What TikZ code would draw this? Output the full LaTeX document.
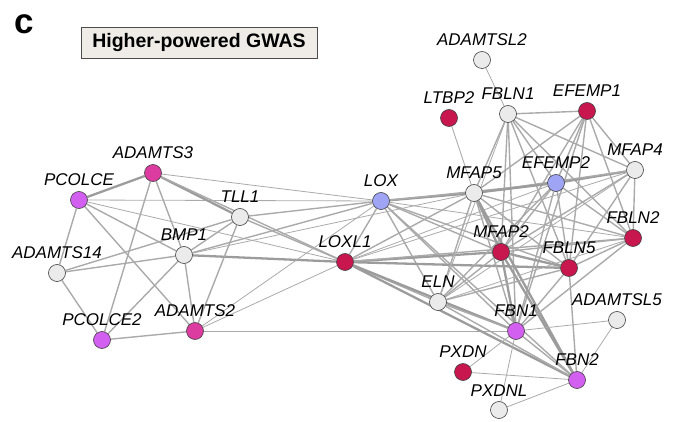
\documentclass[tikz,border=0pt]{standalone}
\usepackage{fontspec}
\setmainfont{Liberation Sans}
\usepackage{xcolor}
\definecolor{c8174f}{HTML}{C8174F}
\definecolor{dc3ca0}{HTML}{DC3CA0}
\definecolor{d35ff0}{HTML}{D35FF0}
\definecolor{a0a4f5}{HTML}{A0A4F5}
\definecolor{ebebeb}{HTML}{EBEBEB}
\definecolor{aaaaaa}{HTML}{AAAAAA}
\definecolor{efebe6}{HTML}{EFEBE6}
\usepackage{tikz}
\usetikzlibrary{backgrounds}

\tikzset{
    gene/.style={circle, draw=black!75, line width=0.6pt, minimum size=17pt, inner sep=0pt, fill=ebebeb},
    every label/.style={font=\fontsize{17}{17}\selectfont\itshape, inner sep=2pt},
    weak/.style={draw=aaaaaa, line width=0.8pt},
    link/.style={draw=aaaaaa, line width=1.4pt},
    strong/.style={draw=aaaaaa!92!black, line width=2.3pt},
}

\begin{document}
\begin{tikzpicture}[x=1pt, y=-1pt, label distance=3pt]
                        \useasboundingbox (0, 0) rectangle (686, 422);

                        \node (panel) at (24, 24) [font=\fontsize{35}{35}\selectfont\bfseries] {c};
                        \node (title) at (199, 42.5) [draw=black!70, fill=efebe6, minimum width=236, minimum height=31, inner sep=0pt, font=\fontsize{19.5}{20}\selectfont\bfseries] {Higher-powered GWAS};

                        % left cluster
                        \node (PCOLCE) at (79, 200) [gene, fill=d35ff0, label=above:PCOLCE] {};
                        \node (ADAMTS3) at (153, 173) [gene, fill=dc3ca0, label=above:ADAMTS3] {};
                        \node (TLL1) at (240, 217) [gene, label=above:TLL1] {};
                        \node (BMP1) at (184, 255) [gene, label=above:BMP1] {};
                        \node (ADAMTS14) at (57, 273) [gene, label=above:ADAMTS14] {};
                        \node (PCOLCE2) at (102, 340) [gene, fill=d35ff0, label=above:PCOLCE2] {};
                        \node (ADAMTS2) at (195, 331) [gene, fill=dc3ca0, label=above:ADAMTS2] {};

                        % middle
                        \node (LOX) at (381, 201) [gene, fill=a0a4f5, label=above:LOX] {};
                        \node (LOXL1) at (345, 262) [gene, fill=c8174f, label=above:LOXL1] {};
                        \node (ELN) at (438, 302) [gene, label=above:ELN] {};

                        % right cluster
                        \node (ADAMTSL2) at (482, 60) [gene, label=above:ADAMTSL2] {};
                        \node (LTBP2) at (449, 118) [gene, fill=c8174f, label=above:LTBP2] {};
                        \node (FBLN1) at (508, 114) [gene, label=above:FBLN1] {};
                        \node (EFEMP1) at (587, 111) [gene, fill=c8174f, label=above:EFEMP1] {};
                        \node (MFAP4) at (635, 170) [gene, label=above:MFAP4] {};
                        \node (EFEMP2) at (556, 183) [gene, fill=a0a4f5, label=above:EFEMP2] {};
                        \node (MFAP5) at (474, 193) [gene, label=above:MFAP5] {};
                        \node (FBLN2) at (633, 238) [gene, fill=c8174f, label=above:FBLN2] {};
                        \node (MFAP2) at (501, 252) [gene, fill=c8174f, label=above:MFAP2] {};
                        \node (FBLN5) at (569, 268) [gene, fill=c8174f, label=above:FBLN5] {};
                        \node (FBN1) at (516, 331) [gene, fill=d35ff0, label=above:FBN1] {};
                        \node (ADAMTSL5) at (617, 320) [gene, label=above:ADAMTSL5] {};
                        \node (PXDN) at (463, 372) [gene, fill=c8174f, label=above:PXDN] {};
                        \node (FBN2) at (577, 380) [gene, fill=d35ff0, label=above:FBN2] {};
                        \node (PXDNL) at (499, 410) [gene, label=above:PXDNL] {};

                        \begin{scope}[on background layer]
                        % left cluster
                        \draw[strong] (PCOLCE) -- (ADAMTS3);
                        \draw[link] (PCOLCE) -- (ADAMTS14);
                        \draw[link] (PCOLCE) -- (BMP1);
                        \draw[link] (PCOLCE) -- (ADAMTS2);
                        \draw[weak] (PCOLCE) -- (LOX);
                        \draw[weak] (PCOLCE) -- (LOXL1);
                        \draw[link] (ADAMTS3) -- (BMP1);
                        \draw[link] (ADAMTS3) -- (PCOLCE2);
                        \draw[strong] (ADAMTS3) -- (TLL1);
                        \draw[weak] (ADAMTS3) -- (LOX);
                        \draw[link] (ADAMTS3) -- (LOXL1);
                        \draw[link] (ADAMTS14) -- (BMP1);
                        \draw[link] (ADAMTS14) -- (TLL1);
                        \draw[link] (ADAMTS14) -- (PCOLCE2);
                        \draw[link] (BMP1) -- (TLL1);
                        \draw[link] (BMP1) -- (LOX);
                        \draw[strong] (BMP1) -- (LOXL1);
                        \draw[weak] (BMP1) -- (MFAP5);
                        \draw[link] (BMP1) -- (ADAMTS2);
                        \draw[link] (BMP1) -- (PCOLCE2);
                        \draw[link] (TLL1) -- (LOX);
                        \draw[link] (TLL1) -- (LOXL1);
                        \draw[link] (TLL1) -- (ADAMTS2);
                        \draw[link] (PCOLCE2) -- (ADAMTS2);
                        \draw[weak] (ADAMTS2) -- (LOX);
                        \draw[weak] (ADAMTS2) -- (LOXL1);
                        \draw[weak] (ADAMTS2) -- (FBN1);

                        % middle
                        \draw[link] (LOX) -- (LOXL1);
                        \draw[strong] (LOX) -- (MFAP5);
                        \draw[link] (LOX) -- (EFEMP2);
                        \draw[link] (LOX) -- (ELN);
                        \draw[link] (LOX) -- (MFAP2);
                        \draw[link] (LOX) -- (FBLN5);
                        \draw[weak] (LOX) -- (FBLN2);
                        \draw[link] (LOX) -- (FBN1);
                        \draw[link] (LOX) -- (FBN2);
                        \draw[link] (LOXL1) -- (MFAP5);
                        \draw[weak] (LOXL1) -- (EFEMP2);
                        \draw[weak] (LOXL1) -- (MFAP4);
                        \draw[strong] (LOXL1) -- (MFAP2);
                        \draw[strong] (LOXL1) -- (FBLN5);
                        \draw[link] (LOXL1) -- (FBLN2);
                        \draw[link] (LOXL1) -- (ELN);
                        \draw[strong] (LOXL1) -- (FBN1);
                        \draw[strong] (LOXL1) -- (FBN2);

                        % right cluster
                        \draw[weak] (ADAMTSL2) -- (FBLN1);
                        \draw[weak] (LTBP2) -- (MFAP5);
                        \draw[link] (FBLN1) -- (EFEMP1);
                        \draw[link] (FBLN1) -- (MFAP5);
                        \draw[link] (FBLN1) -- (EFEMP2);
                        \draw[link] (FBLN1) -- (MFAP4);
                        \draw[link] (FBLN1) -- (FBLN2);
                        \draw[link] (FBLN1) -- (FBLN5);
                        \draw[link] (FBLN1) -- (MFAP2);
                        \draw[link] (FBLN1) -- (FBN1);
                        \draw[weak] (FBLN1) -- (ELN);
                        \draw[link] (EFEMP1) -- (MFAP5);
                        \draw[link] (EFEMP1) -- (EFEMP2);
                        \draw[link] (EFEMP1) -- (MFAP4);
                        \draw[link] (EFEMP1) -- (FBLN2);
                        \draw[link] (EFEMP1) -- (FBLN5);
                        \draw[link] (EFEMP1) -- (MFAP2);
                        \draw[link] (EFEMP1) -- (FBN1);
                        \draw[strong] (MFAP4) -- (EFEMP2);
                        \draw[link] (MFAP4) -- (MFAP5);
                        \draw[link] (MFAP4) -- (FBLN2);
                        \draw[link] (MFAP4) -- (FBLN5);
                        \draw[link] (MFAP4) -- (MFAP2);
                        \draw[weak] (MFAP4) -- (ELN);
                        \draw[strong] (EFEMP2) -- (MFAP5);
                        \draw[link] (EFEMP2) -- (MFAP2);
                        \draw[link] (EFEMP2) -- (FBLN5);
                        \draw[link] (EFEMP2) -- (FBLN2);
                        \draw[link] (EFEMP2) -- (FBN1);
                        \draw[link] (EFEMP2) -- (ELN);
                        \draw[strong] (MFAP5) -- (MFAP2);
                        \draw[link] (MFAP5) -- (FBLN5);
                        \draw[link] (MFAP5) -- (FBN1);
                        \draw[strong] (MFAP5) -- (FBN2);
                        \draw[link] (MFAP5) -- (FBLN2);
                        \draw[link] (MFAP5) -- (ELN);
                        \draw[strong] (MFAP2) -- (FBLN5);
                        \draw[link] (MFAP2) -- (FBLN2);
                        \draw[strong] (MFAP2) -- (FBN1);
                        \draw[strong] (MFAP2) -- (FBN2);
                        \draw[link] (MFAP2) -- (ELN);
                        \draw[link] (FBLN5) -- (FBLN2);
                        \draw[link] (FBLN5) -- (FBN1);
                        \draw[link] (FBLN5) -- (FBN2);
                        \draw[link] (FBLN5) -- (ELN);
                        \draw[link] (FBLN2) -- (FBN1);
                        \draw[weak] (FBLN2) -- (ELN);
                        \draw[link] (ELN) -- (FBN1);
                        \draw[link] (ELN) -- (FBN2);
                        \draw[link] (FBN1) -- (FBN2);
                        \draw[weak] (FBN1) -- (ADAMTSL5);
                        \draw[weak] (FBN1) -- (PXDNL);
                        \draw[weak] (FBN1) -- (PXDN);
                        \draw[weak] (FBN2) -- (ADAMTSL5);
                        \draw[weak] (FBN2) -- (PXDN);
                        \draw[weak] (FBN2) -- (PXDNL);
                        \end{scope}
                    \end{tikzpicture}
\end{document}
